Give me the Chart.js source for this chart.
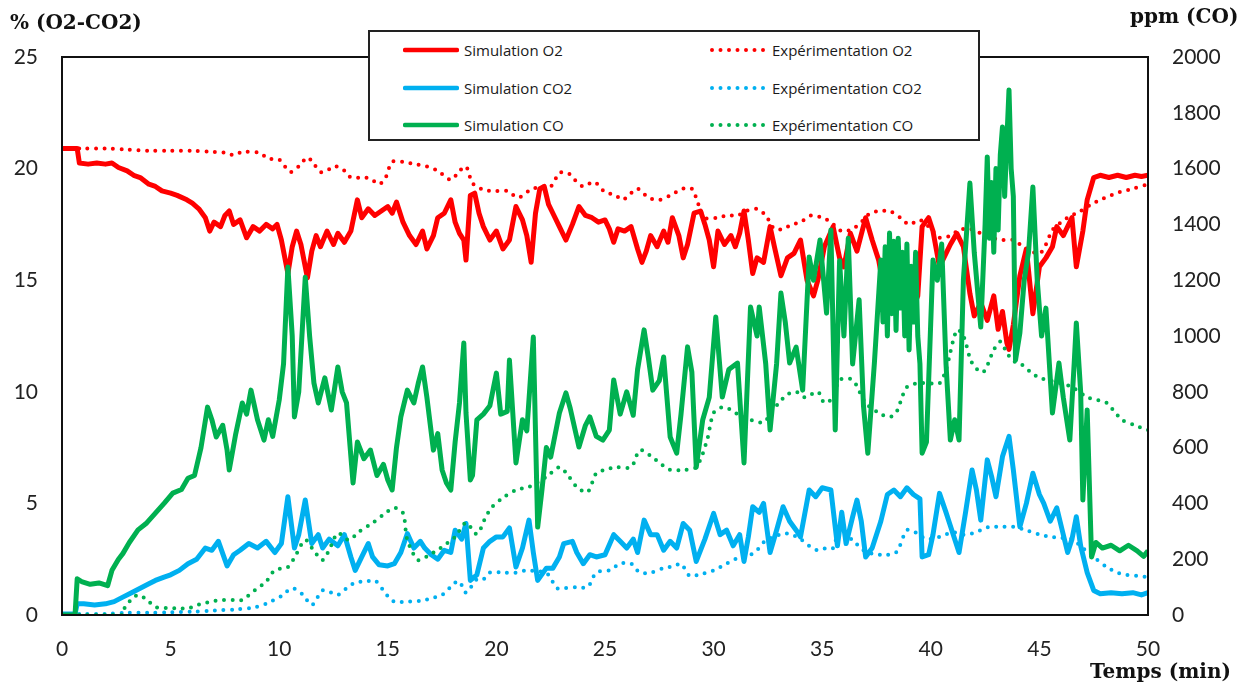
<!DOCTYPE html>
<html>
<head>
<meta charset="utf-8">
<script src="https://cdn.jsdelivr.net/npm/chart.js@4.4.1/dist/chart.umd.min.js"></script>
<style>
  html, body { margin: 0; padding: 0; background: #fff; }
  #wrap { position: relative; width: 1250px; height: 691px; }
  #chart { position: absolute; left: 0; top: 0; }
  .axt { position: absolute; font-family: "DejaVu Serif", serif; font-weight: bold; font-size: 20px; color: #111; white-space: nowrap; }
  #legend { position: absolute; left: 368px; top: 30px; width: 608px; height: 107px; border: 2px solid #222; background: #fff; font-family: "Open Sans", sans-serif; font-size: 15px; color: #1a1a1a; }
  .li { position: absolute; display: flex; align-items: center; white-space: nowrap; }
  .li svg { margin-right: 5px; }
</style>
</head>
<body>
<div id="wrap">
  <canvas id="chart" width="1250" height="691"></canvas>
  <div class="axt" style="left:10px; top:10px;">% (O2-CO2)</div>
  <div class="axt" style="left:1130px; top:4px;">ppm (CO)</div>
  <div class="axt" style="left:1090px; top:659px;">Temps (min)</div>
  <div id="legend"></div>
</div>
<script>
// ---- Simulation O2 (%)
var simO2T = [0,0.5,0.7,0.8,1.2,1.6,2.0,2.3,2.6,3.0,3.3,3.6,4.0,4.3,4.6,5.0,5.3,5.75,6.0,6.3,6.6,6.8,7.0,7.3,7.5,7.7,7.9,8.2,8.5,8.8,9.1,9.4,9.7,9.9,10.1,10.4,10.6,10.8,11.0,11.3,11.5,11.7,11.9,12.2,12.5,12.7,13.0,13.3,13.6,13.8,14.1,14.4,14.7,15.0,15.2,15.4,15.7,16.0,16.3,16.6,16.8,17.1,17.3,17.6,17.9,18.1,18.3,18.5,18.6,18.8,19.0,19.2,19.4,19.7,20.0,20.3,20.6,20.9,21.2,21.4,21.6,21.8,22.0,22.2,22.4,22.6,22.9,23.2,23.5,23.8,24.1,24.4,24.7,25.0,25.2,25.4,25.6,25.9,26.2,26.5,26.7,26.9,27.1,27.4,27.7,27.9,28.1,28.4,28.6,28.8,29.1,29.4,29.6,29.8,30.0,30.2,30.5,30.8,31.0,31.2,31.4,31.6,31.8,32.0,32.3,32.6,32.8,33.1,33.4,33.7,34.0,34.3,34.6,34.8,35.1,35.5,35.8,36.0,36.3,36.6,37.0,37.3,37.6,37.8,38.0,38.3,38.6,38.9,39.2,39.4,39.6,39.9,40.1,40.4,40.7,40.9,41.2,41.5,41.8,42.0,42.3,42.6,42.9,43.1,43.3,43.5,43.6,43.8,44.1,44.4,44.7,45.0,45.3,45.6,45.8,46.1,46.5,46.7,47.0,47.2,47.5,47.8,48.2,48.6,49.0,49.4,49.7,50.0];
var simO2 = [20.9,20.9,20.9,20.25,20.2,20.25,20.2,20.25,20.05,19.9,19.7,19.6,19.3,19.2,19.0,18.9,18.8,18.6,18.45,18.2,17.8,17.2,17.6,17.4,17.9,18.1,17.5,17.7,16.9,17.4,17.2,17.5,17.3,17.5,16.8,15.3,16.5,17.2,16.6,15.1,16.3,17.0,16.5,17.2,16.6,17.1,16.7,17.2,18.6,17.8,18.2,17.9,18.1,18.3,18.0,18.5,17.6,17.0,16.6,17.2,16.4,17.0,17.8,18.0,18.6,17.6,17.1,16.8,15.9,18.8,18.9,18.0,17.4,16.8,17.2,16.4,16.8,18.3,17.7,17.0,15.8,18.0,19.1,19.2,18.4,18.0,17.4,16.8,17.5,18.3,17.9,17.8,17.6,17.7,17.3,16.7,17.3,17.2,17.4,16.4,15.8,16.3,17.0,16.5,17.2,16.7,17.8,17.0,16.0,16.6,18.0,18.1,17.5,16.8,15.6,17.2,16.6,17.0,16.5,17.1,18.1,16.8,15.3,16.0,15.8,17.4,16.5,15.2,16.0,16.2,16.8,15.0,14.3,15.0,16.5,17.4,16.0,15.6,17.1,16.3,17.8,16.8,15.9,14.8,14.2,14.6,13.9,14.4,13.8,14.3,17.4,17.8,17.2,15.6,16.2,16.6,17.1,16.5,14.4,13.4,14.0,13.2,14.3,12.8,13.6,12.2,11.9,13.0,15.2,16.4,13.5,15.6,16.0,16.5,17.4,17.0,17.8,15.6,17.2,18.6,19.6,19.7,19.6,19.7,19.6,19.7,19.65,19.7];

// ---- Experimentation O2 (%)
var expO2T = [0,1,2,3,4,5,6,7,7.6,7.9,8.3,9.1,9.5,10.0,10.5,10.9,11.3,11.6,11.9,12.2,12.5,12.9,13.3,13.8,14.2,14.6,14.9,15.2,15.7,16.2,16.8,17.3,17.9,18.3,18.6,18.9,19.4,20.0,20.5,21.0,21.5,22.0,22.5,22.9,23.3,23.6,24.0,24.5,25.0,25.5,25.8,26.2,26.5,27.0,27.5,28.0,28.6,29.0,29.3,29.6,30.2,30.6,31.1,31.5,32.0,32.4,32.8,33.2,33.6,34.0,34.5,35.0,35.4,35.9,36.4,36.8,37.2,37.7,38.1,38.6,39.0,39.5,40.0,40.4,40.9,41.3,41.8,42.3,42.8,43.3,43.8,44.4,45.0,45.3,45.6,46.0,46.3,46.9,47.4,47.8,48.3,48.7,49.3,50.0];
var expO2 = [20.9,20.9,20.9,20.85,20.8,20.8,20.8,20.75,20.7,20.6,20.75,20.7,20.45,20.4,19.85,20.1,20.5,20.2,19.85,19.9,20.1,20.0,19.6,19.6,19.55,19.3,19.6,20.3,20.3,20.2,20.1,19.9,19.5,19.9,20.1,19.35,19.05,19.0,19.0,18.7,19.0,19.2,19.2,19.8,19.8,19.5,19.2,19.4,18.95,18.8,18.6,18.9,19.1,18.7,18.6,18.8,19.1,19.1,18.4,17.8,17.8,17.9,17.9,18.1,18.2,17.9,17.3,17.3,17.5,17.6,17.9,17.8,17.6,17.2,17.3,17.6,18.0,18.1,18.1,17.8,17.5,17.7,17.3,16.9,17.0,17.25,17.3,17.1,16.9,16.8,16.8,16.4,16.2,16.6,17.25,17.6,17.8,18.1,18.4,18.6,18.8,18.95,19.1,19.3];

// ---- Simulation CO2 (%)
var simCO2T = [0,0.6,0.7,1.0,1.5,2.0,2.4,2.8,3.2,3.6,4.0,4.3,4.7,5.0,5.4,5.8,6.2,6.6,6.9,7.2,7.6,7.9,8.2,8.6,9.0,9.4,9.8,10.1,10.4,10.7,10.9,11.2,11.5,11.8,12.0,12.3,12.7,13.0,13.3,13.5,13.8,14.1,14.3,14.6,15.0,15.3,15.6,15.9,16.2,16.5,16.7,17.0,17.3,17.6,17.9,18.1,18.4,18.6,18.8,19.1,19.4,19.7,20.0,20.3,20.6,20.9,21.2,21.5,21.7,21.9,22.3,22.6,22.9,23.1,23.5,23.7,24.0,24.3,24.6,25.0,25.4,25.7,26.0,26.3,26.5,26.8,27.1,27.4,27.7,28.0,28.3,28.6,28.9,29.2,29.6,30.0,30.3,30.6,30.9,31.2,31.4,31.6,31.8,32.1,32.3,32.6,32.9,33.2,33.5,33.8,34.0,34.4,34.7,35.0,35.4,35.7,35.9,36.1,36.4,36.6,36.8,37.0,37.3,37.7,38.0,38.3,38.6,38.9,39.2,39.5,39.6,39.9,40.1,40.4,40.7,40.9,41.3,41.6,41.9,42.1,42.3,42.6,42.8,43.0,43.3,43.6,43.8,44.1,44.4,44.7,45.0,45.2,45.5,45.8,46.0,46.3,46.5,46.7,46.9,47.2,47.5,47.8,48.3,48.8,49.3,49.7,50.0];
var simCO2 = [0.05,0.05,0.5,0.5,0.45,0.5,0.6,0.8,1.0,1.2,1.4,1.55,1.7,1.8,2.0,2.3,2.5,3.0,2.9,3.3,2.2,2.7,2.9,3.2,3.0,3.3,2.8,3.2,5.3,3.0,3.6,5.15,3.2,3.6,3.0,3.4,3.1,3.6,2.6,2.0,2.6,3.2,2.6,2.25,2.2,2.3,2.8,3.65,3.0,3.3,3.0,2.7,2.5,2.9,2.8,3.8,3.4,4.1,1.55,1.8,3.0,3.3,3.5,3.5,3.9,2.15,3.0,4.25,2.8,1.55,2.1,2.1,2.6,3.2,3.3,2.8,2.3,2.7,2.6,2.7,3.6,3.3,3.0,3.4,2.8,4.25,3.6,3.6,2.9,3.3,3.0,4.1,3.8,2.4,3.4,4.55,3.6,3.8,3.1,3.6,2.4,3.5,4.85,4.6,5.0,2.8,3.8,4.85,4.2,3.8,3.5,5.6,5.3,5.7,5.6,3.1,4.6,3.2,4.4,5.15,4.2,2.6,3.0,4.2,5.4,5.6,5.3,5.7,5.4,5.2,2.6,2.7,3.6,5.45,4.6,4.0,2.8,4.6,6.5,5.6,4.25,6.95,6.2,5.3,7.1,8.0,6.5,3.95,5.0,6.35,5.4,5.0,4.2,4.8,4.0,2.8,3.4,4.4,3.1,1.9,1.1,0.95,1.0,0.95,1.0,0.9,1.0];

// ---- Experimentation CO2 (%)
var expCO2T = [0,1,2,3,4,5,6,7,8,8.9,9.5,10.1,10.6,11.1,11.5,12.0,12.4,12.7,13.1,13.5,14.0,14.4,14.8,15.0,15.3,16.0,16.6,17.0,17.5,18.1,18.3,18.6,19.1,19.4,19.7,20.3,20.9,21.4,21.9,22.3,22.8,23.1,23.7,24.2,24.6,25.2,25.7,26.2,26.6,27.1,27.7,28.2,28.5,28.9,29.3,30.0,30.6,31.2,31.7,32.0,32.4,32.8,33.2,33.6,34.0,34.4,34.8,35.2,35.5,35.8,36.4,36.9,37.3,37.8,38.4,38.9,39.3,39.8,40.4,41.0,41.5,41.9,42.3,42.7,43.2,43.8,44.4,45.0,45.5,46.0,46.5,47.0,47.5,48.1,48.6,49.0,49.5,50.0];
var expCO2 = [0.05,0.05,0.05,0.1,0.1,0.12,0.15,0.2,0.25,0.35,0.55,0.85,1.2,0.9,0.45,1.1,1.0,0.9,1.2,1.45,1.5,1.55,1.1,0.85,0.6,0.6,0.65,0.75,0.9,1.45,1.5,1.0,1.6,1.6,1.9,1.9,1.9,2.0,1.95,1.9,1.2,1.2,1.25,1.25,1.9,2.0,2.3,2.3,1.9,1.9,2.1,2.2,2.3,1.75,1.8,2.0,2.3,2.6,2.7,2.9,3.35,3.5,3.65,3.6,3.4,3.1,2.9,3.0,3.0,3.8,3.35,2.9,2.75,2.7,2.8,3.8,3.7,3.4,3.5,3.7,3.6,3.65,3.8,3.95,3.95,3.95,3.8,3.6,3.5,3.45,3.4,3.0,2.6,2.15,1.9,1.8,1.75,1.7];

// ---- Simulation CO (ppm)
var simCOT = [0,0.6,0.7,0.9,1.3,1.7,2.1,2.3,2.6,2.8,3.1,3.5,3.9,4.3,4.7,5.1,5.5,5.8,6.1,6.4,6.7,6.9,7.1,7.4,7.6,7.7,8.0,8.3,8.5,8.7,9.0,9.3,9.5,9.7,10.0,10.2,10.4,10.6,10.7,10.9,11.2,11.4,11.6,11.8,12.1,12.4,12.7,12.9,13.1,13.4,13.6,13.9,14.2,14.5,14.8,15.0,15.2,15.4,15.6,15.9,16.2,16.4,16.6,16.8,17.1,17.3,17.5,17.7,17.9,18.1,18.3,18.5,18.6,18.8,18.9,19.1,19.4,19.7,20.0,20.2,20.5,20.6,20.9,21.2,21.4,21.7,21.9,22.1,22.3,22.5,22.9,23.2,23.4,23.8,24.1,24.3,24.6,24.9,25.2,25.4,25.7,26.0,26.3,26.5,26.8,27.0,27.2,27.5,27.7,28.0,28.3,28.5,28.8,29.0,29.2,29.5,29.8,30.1,30.4,30.7,31.1,31.4,31.7,32.0,32.1,32.4,32.6,32.9,33.1,33.3,33.5,33.8,34.1,34.4,34.6,34.9,35.2,35.4,35.6,35.8,36.0,36.2,36.4,36.7,36.9,37.1,37.4,37.7,37.8,37.9,38.0,38.1,38.2,38.3,38.4,38.5,38.6,38.7,38.8,38.9,39.0,39.1,39.2,39.3,39.4,39.5,39.6,39.8,40.1,40.3,40.5,40.7,40.9,41.1,41.3,41.5,41.8,42.0,42.3,42.5,42.6,42.7,42.8,42.9,43.0,43.1,43.2,43.3,43.4,43.5,43.6,43.7,43.8,43.9,44.1,44.3,44.5,44.7,44.9,45.1,45.3,45.6,45.9,46.1,46.4,46.6,46.7,46.9,47.0,47.2,47.4,47.6,47.9,48.3,48.7,49.1,49.5,49.8,50.0];
var simCO = [0,0,130,120,110,115,105,160,200,220,260,305,330,365,400,437,450,490,500,600,745,700,638,680,591,520,650,760,720,806,700,627,700,640,770,900,1247,1000,710,800,1211,1000,831,760,850,735,889,800,760,473,620,560,591,500,540,484,448,600,710,806,760,830,889,780,591,650,520,473,448,620,760,975,724,484,500,699,720,750,867,720,730,914,545,700,660,996,315,450,600,566,724,796,740,602,680,710,640,627,663,842,720,800,716,880,1022,920,806,840,925,638,580,720,961,870,530,700,780,1068,781,880,903,545,1104,1000,1104,900,663,900,1154,1050,903,960,806,1283,1200,1344,1082,1380,663,1270,1000,1350,900,1130,750,580,900,1272,1050,1320,1000,1369,1080,1340,1020,1350,1100,1300,1000,1330,950,1250,1050,1300,1000,900,580,620,1272,1200,1330,900,627,700,627,1200,1548,1300,1032,1400,1642,1350,1550,1300,1600,1380,1650,1749,1500,1700,1882,1600,1500,914,1010,1200,1300,1534,1200,1000,1100,724,903,780,627,900,1047,800,412,735,208,260,240,250,230,250,230,210,230];

// ---- Experimentation CO (ppm)
var expCOT = [0,1,2,2.8,2.9,3.2,3.5,3.9,4.3,4.8,5.4,5.8,6.2,6.6,7.0,7.4,8.0,8.3,8.9,9.4,9.8,10.4,10.8,11.2,11.6,12.0,12.4,12.7,13.2,13.7,14.3,14.8,15.3,15.7,15.9,16.4,16.9,17.3,17.7,18.1,18.6,19.1,19.5,19.8,20.3,20.9,21.5,22.3,22.9,23.3,23.7,24.2,24.6,25.0,25.5,26.2,26.6,27.1,27.6,28.0,28.6,29.2,29.7,30.0,30.4,30.8,31.1,31.7,32.3,32.6,33.0,33.4,33.8,34.2,34.8,35.1,35.5,35.8,36.4,37.0,37.7,38.1,38.4,38.9,39.5,40.0,40.4,40.7,41.2,41.5,41.9,42.4,42.9,43.2,43.5,43.8,44.1,44.6,45.0,45.5,46.0,46.5,47.2,47.7,48.1,48.8,49.4,50.0];
var expCO = [0,0,0,0,29,55,72,55,29,25,24,24,35,43,50,54,54,54,90,120,161,172,220,269,230,197,250,294,269,300,330,360,384,365,269,197,215,233,255,280,330,290,350,387,420,448,459,495,530,500,459,441,509,520,530,530,591,570,540,520,520,530,627,724,745,735,720,700,690,720,760,790,800,780,800,760,780,842,842,760,720,710,724,817,831,830,830,880,1022,1000,903,870,950,980,940,910,903,870,850,840,830,817,781,770,760,700,680,663];

// ---- axes
var xTicks = [0, 5, 10, 15, 20, 25, 30, 35, 40, 45, 50];
var leftTicks = [0, 5, 10, 15, 20, 25];
var rightTicks = [0, 200, 400, 600, 800, 1000, 1200, 1400, 1600, 1800, 2000];

var RED = '#FF0000', BLUE = '#00B0F0', GREEN = '#00B050';

function pts(t, v) {
  return t.map(function (x, i) { return { x: x, y: v[i] }; });
}

function solid(label, t, v, color, axis, order) {
  return { label: label, data: pts(t, v), borderColor: color, backgroundColor: color,
    borderWidth: 5, pointRadius: 0, tension: 0, yAxisID: axis, order: order,
    borderJoinStyle: 'round' };
}
function dotted(label, t, v, color, axis, order) {
  return { label: label, data: pts(t, v), borderColor: color, backgroundColor: color,
    borderWidth: 4, borderDash: [0, 8.5], borderCapStyle: 'round', pointRadius: 0,
    tension: 0.3, yAxisID: axis, order: order };
}

var datasets = [
  solid('Simulation O2', simO2T, simO2, RED, 'y', 2),
  solid('Simulation CO2', simCO2T, simCO2, BLUE, 'y', 4),
  solid('Simulation CO', simCOT, simCO, GREEN, 'y1', 0),
  dotted('Expérimentation O2', expO2T, expO2, RED, 'y', 3),
  dotted('Expérimentation CO2', expCO2T, expCO2, BLUE, 'y', 5),
  dotted('Expérimentation CO', expCOT, expCO, GREEN, 'y1', 1)
];

var frame = {
  id: 'frame',
  afterDatasetsDraw: function (chart) {
    var a = chart.chartArea, ctx = chart.ctx;
    ctx.save();
    ctx.strokeStyle = '#111';
    ctx.lineWidth = 2;
    ctx.strokeRect(a.left, a.top, a.right - a.left, a.bottom - a.top);
    ctx.restore();
  }
};

var tickFont = { family: 'Lato', size: 21 };
function plain(v) { return String(v); }

new Chart(document.getElementById('chart').getContext('2d'), {
  type: 'line',
  data: { datasets: datasets },
  options: {
    responsive: false,
    animation: false,
    events: [],
    layout: { padding: { top: 57, left: 0, right: 0, bottom: 0 } },
    plugins: { legend: { display: false }, tooltip: { enabled: false } },
    scales: {
      x: {
        type: 'linear', min: 0, max: 50,
        afterBuildTicks: function (s) { s.ticks = xTicks.map(function (v) { return { value: v }; }); },
        afterFit: function (s) { s.height = 76; },
        grid: { display: false, drawTicks: false }, border: { display: false },
        ticks: { font: tickFont, color: '#222', padding: 22, maxRotation: 0, callback: plain }
      },
      y: {
        position: 'left', min: 0, max: 25,
        afterBuildTicks: function (s) { s.ticks = leftTicks.map(function (v) { return { value: v }; }); },
        afterFit: function (s) { s.width = 62; },
        grid: { display: false, drawTicks: false }, border: { display: false },
        ticks: { font: tickFont, color: '#222', padding: 24, callback: plain }
      },
      y1: {
        position: 'right', min: 0, max: 2000,
        afterBuildTicks: function (s) { s.ticks = rightTicks.map(function (v) { return { value: v }; }); },
        afterFit: function (s) { s.width = 102; },
        grid: { display: false, drawTicks: false }, border: { display: false },
        ticks: { font: tickFont, color: '#222', padding: 24, callback: plain }
      }
    }
  },
  plugins: [frame]
});

// legend: two columns, three rows, like the reference box
var legendRows = [
  ['Simulation O2', 'Expérimentation O2', RED],
  ['Simulation CO2', 'Expérimentation CO2', BLUE],
  ['Simulation CO', 'Expérimentation CO', GREEN]
];
var leg = document.getElementById('legend');
legendRows.forEach(function (r, i) {
  var top = 7 + i * 37.5;
  leg.insertAdjacentHTML('beforeend',
    '<div class="li" style="left:33px;top:' + top + 'px;height:22px">' +
    '<svg width="56" height="10"><line x1="2" y1="5" x2="54" y2="5" stroke="' + r[2] + '" stroke-width="4.5" stroke-linecap="round"/></svg>' +
    '<span>' + r[0] + '</span></div>' +
    '<div class="li" style="left:339px;top:' + top + 'px;height:22px">' +
    '<svg width="58" height="10"><line x1="3" y1="5" x2="56" y2="5" stroke="' + r[2] + '" stroke-width="4" stroke-dasharray="0 8.5" stroke-linecap="round"/></svg>' +
    '<span>' + r[1] + '</span></div>');
});
</script>
</body>
</html>
